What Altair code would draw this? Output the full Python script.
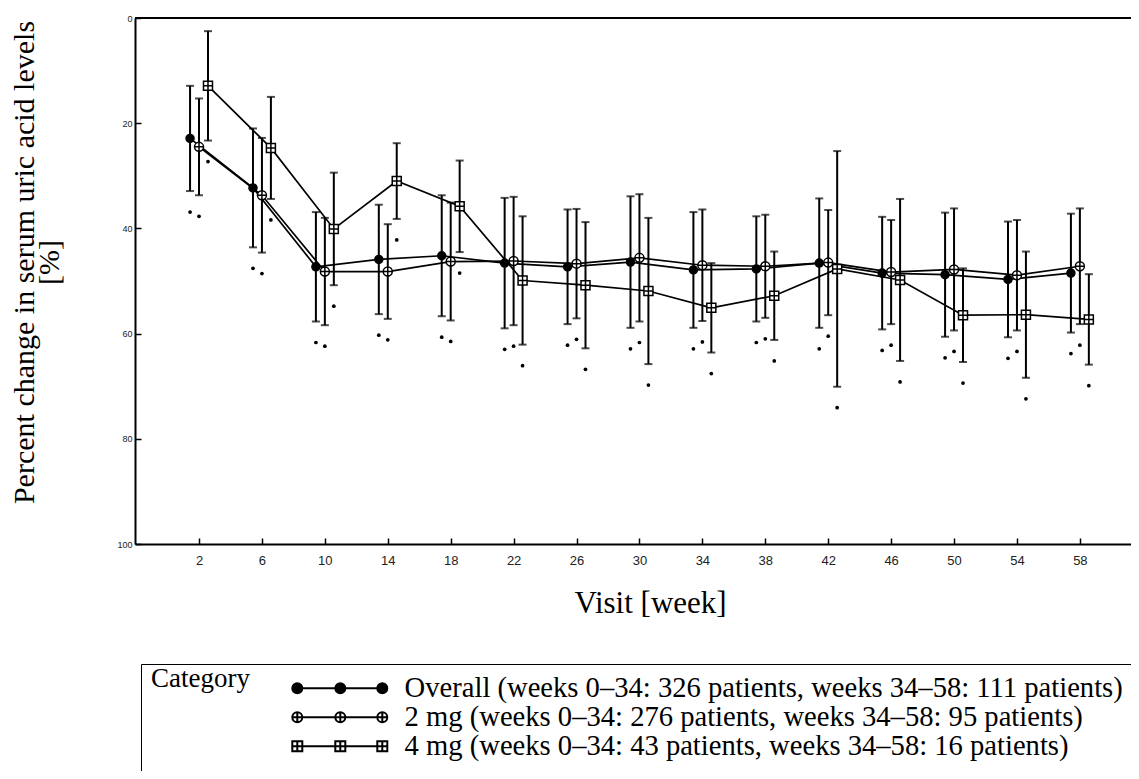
import altair as alt
import pandas as pd

weeks = [2, 6, 10, 14, 18, 22, 26, 30, 34, 38, 42, 46, 50, 54, 58]

categories = [
    "Overall (weeks 0\u201334: 326 patients, weeks 34\u201358: 111 patients)",
    "2 mg (weeks 0\u201334: 276 patients, weeks 34\u201358: 95 patients)",
    "4 mg (weeks 0\u201334: 43 patients, weeks 34\u201358: 16 patients)",
]

overall_mean = [22.9, 32.3, 47.3, 45.9, 45.2, 46.6, 47.3, 46.4, 47.9, 47.7, 46.6, 48.5, 48.8, 49.7, 48.5]
overall_sd = [10.0, 11.3, 10.4, 10.4, 11.5, 12.4, 10.9, 12.5, 11.0, 10.0, 12.3, 10.7, 11.8, 11.0, 11.3]

mg2_mean = [24.5, 33.7, 48.2, 48.2, 46.3, 46.2, 46.7, 45.6, 47.0, 47.2, 46.5, 48.3, 47.8, 48.9, 47.2]
mg2_sd = [9.2, 10.9, 10.2, 9.0, 11.2, 12.2, 10.4, 12.1, 10.6, 9.8, 10.0, 9.9, 11.6, 10.5, 11.0]

mg4_mean = [12.9, 24.7, 40.1, 31.0, 35.8, 49.9, 50.8, 51.9, 55.1, 52.8, 47.7, 49.8, 56.5, 56.4, 57.3]
mg4_sd = [10.4, 9.7, 10.7, 7.2, 8.7, 12.2, 12.0, 13.9, 8.5, 8.4, 22.4, 15.4, 8.9, 12.0, 8.6]

y_ticks = [0, 20, 40, 60, 80, 100]

rows = []
for idx, (cat, means, sds) in enumerate(
    [(categories[0], overall_mean, overall_sd),
     (categories[1], mg2_mean, mg2_sd),
     (categories[2], mg4_mean, mg4_sd)]):
    for w, m, s in zip(weeks, means, sds):
        rows.append({"week": w, "category": cat, "mean": m, "sd": s, "order": idx})
df = pd.DataFrame(rows)

# marker shapes (custom SVG paths in a -1..1 box)
circ = "M 0.8 0 A 0.8 0.8 0 1 1 -0.8 0 A 0.8 0.8 0 1 1 0.8 0 Z"
circ_plus = ("M 0.9 0 A 0.9 0.9 0 1 1 -0.9 0 A 0.9 0.9 0 1 1 0.9 0 Z"
             " M -0.9 0 L 0.9 0 M 0 -0.9 L 0 0.9")
sq_plus = "M -0.9 -0.9 L 0.9 -0.9 L 0.9 0.9 L -0.9 0.9 Z M -0.9 0 L 0.9 0 M 0 -0.9 L 0 0.9"


def circ_at(cx, r=1.0):
    return f"M {cx + r} 0 A {r} {r} 0 1 1 {cx - r} 0 A {r} {r} 0 1 1 {cx + r} 0 Z"


def sq_at(cx, r=1.0):
    return (f"M {cx - r} {-r} L {cx + r} {-r} L {cx + r} {r} L {cx - r} {r} Z "
            f"M {cx} {-r} L {cx} {r}")


centers = [0, 8.6, 17]
leg_line = "M -1 0 L 18 0 "
leg_overall = leg_line + " ".join(circ_at(c) for c in centers)
leg_2mg = leg_line + " ".join(circ_at(c) + f" M {c} -1 L {c} 1" for c in centers)
leg_4mg = leg_line + " ".join(sq_at(c) for c in centers)

legend = alt.Legend(
    title="Category",
    orient="none",
    legendX=6,
    legendY=646,
    direction="vertical",
    titleOrient="left",
    titleAnchor="start",
    titleBaseline="line-top",
    titleLineHeight=11,
    titleFont="Liberation Serif",
    titleFontSize=27,
    titleFontWeight="normal",
    titleColor="black",
    titlePadding=33,
    labelFont="Liberation Serif",
    labelFontSize=28.6,
    labelColor="black",
    labelLimit=1200,
    labelOffset=93,
    symbolSize=100,
    symbolStrokeWidth=2,
    symbolOpacity=1,
    rowPadding=-0.6,
    padding=10,
    strokeColor="black",
    fillColor="white",
)

xscale = alt.Scale(domain=[-2.07, 61.25], nice=False, zero=False)
yscale = alt.Scale(domain=[0, 100], reverse=True, nice=False, zero=False)

x_axis = alt.Axis(
    values=weeks, ticks=False, grid=False, labelFont="Liberation Sans",
    labelFontSize=13, labelColor="#222", labelPadding=10,
    domainColor="black", domainWidth=2,
    title="Visit [week]", titleFont="Liberation Serif", titleFontSize=31,
    titleFontWeight="normal", titleColor="black", titlePadding=21, titleX=515,
)
y_axis = alt.Axis(
    values=y_ticks, ticks=False, grid=False, labelFont="Liberation Sans",
    labelFontSize=9, labelColor="#222", labelPadding=3,
    domainColor="black", domainWidth=2,
    title=["Percent change in serum uric acid levels", "[%]"],
    titleFont="Liberation Serif", titleFontSize=30, titleFontWeight="normal",
    titleColor="black", titleLineHeight=25, titlePadding=52, titleY=244,
)

base = alt.Chart(df).transform_calculate(
    xpos="datum.week + (datum.order - 1) * 0.57",
    top="datum.mean - datum.sd",
    bottom="datum.mean + datum.sd",
)

X0 = alt.X("xpos:Q", scale=xscale, axis=None)

lines = base.mark_line(color="black", strokeWidth=1.7).encode(
    x=alt.X("xpos:Q", scale=xscale, axis=x_axis),
    y=alt.Y("mean:Q", scale=yscale, axis=y_axis),
    detail="category:N",
    order="week:Q",
)

bars = base.mark_rule(color="black", strokeWidth=2).encode(
    x=X0, y=alt.Y("top:Q", scale=yscale, axis=None), y2="bottom:Q"
)

caps_top = base.mark_tick(color="black", orient="horizontal", size=8, thickness=2).encode(
    x=X0, y=alt.Y("top:Q", scale=yscale, axis=None)
)
caps_bottom = base.mark_tick(color="black", orient="horizontal", size=8, thickness=2).encode(
    x=X0, y=alt.Y("bottom:Q", scale=yscale, axis=None)
)

stars = base.mark_circle(color="black", size=14, opacity=1, yOffset=21).encode(
    x=X0, y=alt.Y("bottom:Q", scale=yscale, axis=None)
)

points = base.mark_point(size=100, opacity=1, strokeWidth=1.5).encode(
    x=X0,
    y=alt.Y("mean:Q", scale=yscale, axis=None),
    shape=alt.Shape("category:N", scale=alt.Scale(domain=categories, range=[circ, circ_plus, sq_plus]),
                    legend=None),
    fill=alt.Fill("category:N", scale=alt.Scale(domain=categories, range=["black", "white", "white"]),
                  legend=None),
    stroke=alt.value("black"),
)

# invisible layer that only provides the legend (line-with-markers symbols)
legend_layer = base.mark_point(size=100, opacity=0, strokeWidth=2).encode(
    x=X0,
    y=alt.Y("mean:Q", scale=yscale, axis=None),
    shape=alt.Shape("category:N",
                    scale=alt.Scale(domain=categories, range=[leg_overall, leg_2mg, leg_4mg]),
                    legend=legend),
    fill=alt.Fill("category:N", scale=alt.Scale(domain=categories, range=["black", "white", "white"]),
                  legend=legend),
    stroke=alt.Stroke("category:N", scale=alt.Scale(domain=categories, range=["black", "black", "black"]),
                      legend=legend),
)

topline = alt.Chart(df).mark_rule(color="black", strokeWidth=2).encode(
    y=alt.YDatum(0, axis=None)
)

inner_ticks = alt.Chart(df).mark_point(opacity=0).encode(
    x=alt.X("week:Q", scale=xscale, axis=alt.Axis(
        orient="bottom", offset=-6, domain=False, labels=False, ticks=True,
        tickSize=6, tickWidth=1.5, tickColor="black", values=weeks, title=None, grid=False)),
    y=alt.Y("mean:Q", scale=yscale, axis=alt.Axis(
        orient="left", offset=-6, domain=False, labels=False, ticks=True,
        tickSize=6, tickWidth=1.5, tickColor="black", values=y_ticks, title=None, grid=False)),
)

chart = alt.layer(
    lines, bars, caps_top, caps_bottom, stars, points, legend_layer, topline, inner_ticks
).resolve_axis(
    x="independent", y="independent"
).resolve_scale(
    shape="independent", fill="independent", stroke="independent"
).properties(
    width=996,
    height=526,
    autosize=alt.AutoSizeParams(type="none"),
    padding={"left": 127, "top": 10, "right": 0, "bottom": 227},
    background="white",
).configure_view(stroke=None)

chart.save("out.html", embed_options={"renderer": "svg", "actions": False})
